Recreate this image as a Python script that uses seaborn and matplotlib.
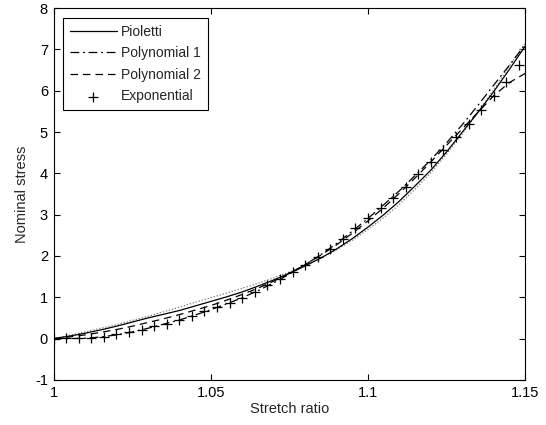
import numpy as np
import pandas as pd
import matplotlib
matplotlib.use("Agg")
import matplotlib.pyplot as plt
import seaborn as sns

# ---- data ----
stretch = [1.000, 1.005, 1.010, 1.015, 1.020, 1.025, 1.030, 1.035, 1.040, 1.045,
           1.050, 1.055, 1.060, 1.065, 1.070, 1.075, 1.080, 1.085, 1.090, 1.095,
           1.100, 1.105, 1.110, 1.115, 1.120, 1.125, 1.130, 1.135, 1.140, 1.145, 1.150]

pioletti = [0.00, 0.06, 0.13, 0.21, 0.30, 0.40, 0.50, 0.59, 0.68, 0.79,
            0.90, 1.01, 1.13, 1.27, 1.42, 1.58, 1.76, 1.95, 2.17, 2.42,
            2.70, 3.00, 3.33, 3.70, 4.08, 4.52, 5.00, 5.48, 5.98, 6.52, 7.08]

poly1 = [0.00, 0.00, 0.01, 0.04, 0.09, 0.16, 0.25, 0.35, 0.45, 0.57,
         0.70, 0.84, 0.99, 1.16, 1.35, 1.56, 1.79, 2.03, 2.30, 2.60,
         2.91, 3.24, 3.58, 3.95, 4.33, 4.74, 5.18, 5.65, 6.14, 6.62, 7.12]

poly2 = [0.00, 0.04, 0.09, 0.15, 0.22, 0.30, 0.39, 0.48, 0.58, 0.69,
         0.80, 0.93, 1.07, 1.22, 1.39, 1.58, 1.79, 2.02, 2.27, 2.55,
         2.85, 3.17, 3.52, 3.89, 4.28, 4.68, 5.08, 5.48, 5.88, 6.20, 6.42]

other = [0.00, 0.08, 0.16, 0.25, 0.34, 0.44, 0.54, 0.65, 0.76, 0.88,
         0.99, 1.10, 1.22, 1.34, 1.47, 1.61, 1.77, 1.95, 2.15, 2.38,
         2.64, 2.93, 3.25, 3.62, 4.02, 4.47, 4.96, 5.48, 6.03, 6.60, 7.15]

exp_x = [1.000, 1.004, 1.008, 1.012, 1.016, 1.020, 1.024, 1.028, 1.032, 1.036,
         1.040, 1.044, 1.048, 1.052, 1.056, 1.060, 1.064, 1.068, 1.072, 1.076,
         1.080, 1.084, 1.088, 1.092, 1.096, 1.100, 1.104, 1.108, 1.112, 1.116,
         1.120, 1.124, 1.128, 1.132, 1.136, 1.140, 1.144, 1.148]
exp_y = [0.00, 0.02, 0.02, 0.01, 0.03, 0.10, 0.15, 0.22, 0.30, 0.36,
         0.44, 0.55, 0.66, 0.76, 0.87, 0.99, 1.14, 1.30, 1.45, 1.61,
         1.79, 1.97, 2.16, 2.42, 2.67, 2.92, 3.15, 3.40, 3.66, 3.98,
         4.27, 4.56, 4.88, 5.20, 5.53, 5.88, 6.22, 6.62]

x_ticks = [1.0, 1.05, 1.1, 1.15]
x_tick_labels = ["1", "1.05", "1.1", "1.15"]
y_ticks = [-1, 0, 1, 2, 3, 4, 5, 6, 7, 8]

# ---- style ----
sns.set_theme(style="white")
plt.rcParams['font.family'] = ['Liberation Sans', 'DejaVu Sans']
plt.rcParams['font.size'] = 10
plt.rcParams['axes.unicode_minus'] = False

fig = plt.figure(figsize=(5.46, 4.25), dpi=100)
ax = fig.add_axes([0.098, 0.106, 0.864, 0.875])

df = pd.DataFrame({"x": stretch, "pio": pioletti, "p1": poly1, "p2": poly2, "oth": other})
dexp = pd.DataFrame({"x": exp_x, "y": exp_y})

sns.lineplot(data=df, x="x", y="oth", ax=ax, color="#777777", lw=0.9,
             linestyle=(0, (1, 1.5)), label="_nolegend_", sort=False)
sns.lineplot(data=df, x="x", y="pio", ax=ax, color="black", lw=0.9,
             linestyle="-", label="Pioletti", sort=False)
sns.lineplot(data=df, x="x", y="p1", ax=ax, color="black", lw=0.9,
             linestyle=(0, (7, 3, 1.5, 3)), label="Polynomial 1", sort=False)
sns.lineplot(data=df, x="x", y="p2", ax=ax, color="black", lw=0.9,
             linestyle=(0, (6, 4)), label="Polynomial 2", sort=False)
sns.scatterplot(data=dexp, x="x", y="y", ax=ax, color="black",
                marker="+", s=55, linewidth=0.9, label="Exponential", zorder=5)

ax.set_xlim(1.0, 1.15)
ax.set_ylim(-1, 8)
ax.set_xticks(x_ticks)
ax.set_xticklabels(x_tick_labels)
ax.set_yticks(y_ticks)
ax.set_xlabel("Stretch ratio", fontsize=10.5, labelpad=2)
ax.set_ylabel("Nominal stress", fontsize=10.5, labelpad=4)

ax.tick_params(direction="in", length=4, width=0.8, top=True, right=True,
               bottom=True, left=True, labelsize=10.5, pad=4, colors="black")
for s in ax.spines.values():
    s.set_color("black")
    s.set_linewidth(0.8)

handles, labels = ax.get_legend_handles_labels()
leg = ax.legend(handles, labels, loc="upper left", fontsize=10, frameon=True,
                fancybox=False, edgecolor="black", framealpha=1,
                handlelength=3.4, labelspacing=0.55, borderpad=0.5,
                bbox_to_anchor=(0.005, 0.993), handletextpad=0.3,
                scatterpoints=1)
leg.get_frame().set_linewidth(0.8)

fig.savefig("out.png", dpi=100)
